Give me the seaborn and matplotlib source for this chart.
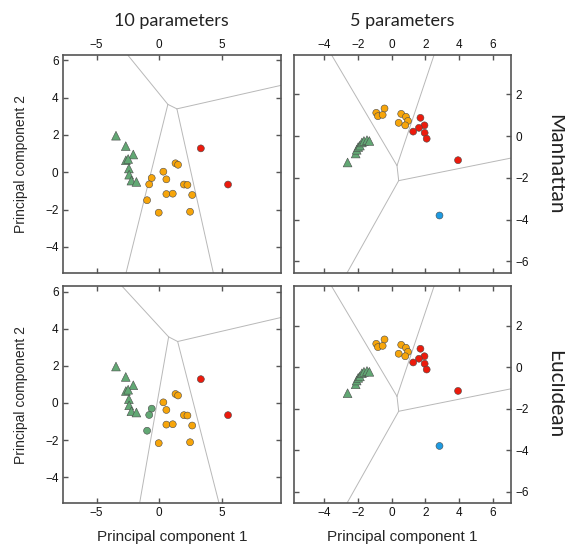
import numpy as np
import pandas as pd
import matplotlib
matplotlib.use('Agg')
import matplotlib.pyplot as plt
import seaborn as sns

sns.set_style('ticks')
plt.rcParams['font.family'] = ['Liberation Sans', 'DejaVu Sans']

# 10 parameters: PCA scores (9 triangles, then 14 circles, then 2 circles)
pc1_10 = [-3.45, -2.67, -2.07, -2.66, -2.48, -2.42, -2.40, -2.22, -1.82,
          1.30, 1.50, 0.33, -0.60, 0.57, -0.80, 1.97, 2.25, 0.57, 1.08, 2.63, -0.97, -0.04, 2.46,
          3.32, 5.49]
pc2_10 = [1.96, 1.40, 0.95, 0.64, 0.71, 0.20, -0.13, -0.45, -0.52,
          0.48, 0.40, 0.03, -0.31, -0.38, -0.65, -0.66, -0.68, -1.17, -1.15, -1.22, -1.50, -2.17, -2.12,
          1.28, -0.66]
shape_10 = ['tri'] * 9 + ['dot'] * 16
clus_10_man = ['g'] * 9 + ['o'] * 14 + ['r'] * 2
clus_10_euc = ['g'] * 9 + ['o', 'o', 'o', 'g', 'o', 'g', 'o', 'o', 'o', 'o', 'o', 'g', 'o', 'o'] + ['r'] * 2

# 5 parameters
pc1_5 = [-2.61, -2.13, -2.07, -1.98, -1.88, -1.76, -1.64, -1.46, -1.32,
         -0.91, -0.81, -0.53, -0.42, 0.57, 0.85, 0.97, 0.42, 0.81,
         1.71, 1.95, 1.62, 1.28, 1.96, 2.08, 3.94,
         2.84]
pc2_5 = [-1.26, -0.83, -0.65, -0.52, -0.45, -0.30, -0.23, -0.19, -0.23,
         1.12, 0.96, 1.02, 1.33, 1.07, 0.93, 0.73, 0.64, 0.52,
         0.88, 0.52, 0.40, 0.22, 0.16, -0.12, -1.15,
         -3.80]
shape_5 = ['tri'] * 9 + ['dot'] * 17
clus_5 = ['g'] * 9 + ['o'] * 9 + ['r'] * 7 + ['b']

# cluster boundaries (segments: x0, y0, x1, y1)
bound_10_man = [(-2.49, 6.27, 0.69, 3.64), (0.69, 3.64, 1.41, 3.40), (1.41, 3.40, 9.71, 4.66),
                (0.69, 3.64, -2.65, -5.41), (1.41, 3.40, 4.32, -5.41)]
bound_10_euc = [(-2.99, 6.31, 0.75, 3.56), (0.75, 3.56, 1.47, 3.31), (1.47, 3.31, 9.81, 4.62),
                (0.75, 3.56, -1.55, -5.35), (1.47, 3.31, 4.75, -5.35)]
bound_5 = [(-3.58, 3.92, 0.32, -1.41), (0.32, -1.41, 2.53, 3.92), (0.32, -1.41, 0.42, -2.13),
           (0.42, -2.13, 7.13, -1.04), (0.42, -2.13, -2.65, -6.56)]

palette = {'g': '#62a874', 'o': '#f7a50a', 'r': '#ec1a0c', 'b': '#1e9be2'}

col_titles = ['10 parameters', '5 parameters']
row_titles = ['Manhattan', 'Euclidean']

fig = plt.figure(figsize=(5.65, 5.48), dpi=100)
xpos = [0.111, 0.520]
ypos = [0.502, 0.082]
widths = [0.386, 0.385]
heights = [0.398, 0.396]

panels = [
    [(pc1_10, pc2_10, shape_10, clus_10_man, bound_10_man), (pc1_5, pc2_5, shape_5, clus_5, bound_5)],
    [(pc1_10, pc2_10, shape_10, clus_10_euc, bound_10_euc), (pc1_5, pc2_5, shape_5, clus_5, bound_5)],
]

for r in range(2):
    for c in range(2):
        ax = fig.add_axes([xpos[c], ypos[r], widths[c], heights[r]])
        x, y, shp, cl, bnd = panels[r][c]
        df = pd.DataFrame({'pc1': x, 'pc2': y, 'shape': shp, 'cluster': cl})

        for x0, y0, x1, y1 in bnd:
            ax.plot([x0, x1], [y0, y1], color='#b8b8b8', lw=0.7, zorder=1)

        tri = df[df['shape'] == 'tri']
        dot = df[df['shape'] == 'dot']
        sns.scatterplot(data=tri, x='pc1', y='pc2', hue='cluster', palette=palette,
                        marker='^', s=40, edgecolor='#4a4a4a', linewidth=0.4,
                        legend=False, ax=ax, zorder=3)
        sns.scatterplot(data=dot, x='pc1', y='pc2', hue='cluster', palette=palette,
                        marker='o', s=25, edgecolor='#4a4a4a', linewidth=0.4,
                        legend=False, ax=ax, zorder=3)

        if c == 0:
            ax.set_xlim(-7.7, 9.7)
            ax.set_ylim(-5.4, 6.3)
            ax.set_xticks([-5, 0, 5])
            ax.set_yticks([-4, -2, 0, 2, 4, 6])
        else:
            ax.set_xlim(-5.8, 7.1)
            ax.set_ylim(-6.55, 3.9)
            ax.set_xticks([-4, -2, 0, 2, 4, 6])
            ax.set_yticks([-6, -4, -2, 0, 2])

        ax.set_xlabel('')
        ax.set_ylabel('')
        for sp in ax.spines.values():
            sp.set_visible(True)
            sp.set_color('#555555')
            sp.set_linewidth(1.2)
        ax.tick_params(direction='in', length=3.5, width=1, color='#555555',
                       labelsize=8.5, labelcolor='#111111', pad=3,
                       top=True, bottom=True, left=True, right=True,
                       labeltop=(r == 0), labelbottom=(r == 1),
                       labelleft=(c == 0), labelright=(c == 1))

# labels
for c in range(2):
    cx = xpos[c] + widths[c] / 2
    fig.text(cx, 0.962, col_titles[c], ha='center', va='center', fontsize=13,
             family=['Lato', 'DejaVu Sans'], color='#222222')
    fig.text(cx, 0.02, 'Principal component 1', ha='center', va='center', fontsize=11)
for r in range(2):
    cy = ypos[r] + heights[r] / 2
    fig.text(0.982, cy, row_titles[r], ha='center', va='center', rotation=-90,
             fontsize=15, family=['Lato', 'DejaVu Sans'], color='#222222')
    fig.text(0.037, cy, 'Principal component 2', ha='center', va='center',
             rotation=90, fontsize=10)

fig.savefig('out.png', dpi=100)
